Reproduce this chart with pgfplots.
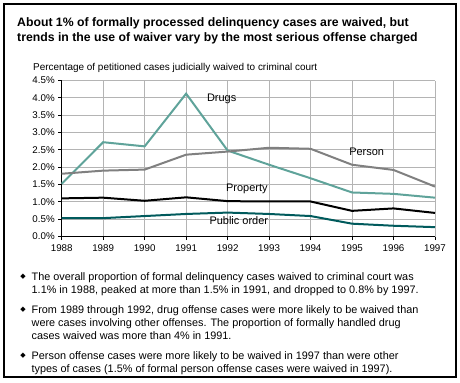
\documentclass[border=0pt]{standalone}
\usepackage{pgfplots}
\pgfplotsset{compat=1.18}
\usepackage{fontspec}
\setmainfont{Liberation Sans}
\newfontfamily\dejavu{DejaVu Sans}
\definecolor{drugs}{HTML}{5FA39A}
\definecolor{person}{HTML}{808080}
\definecolor{puborder}{HTML}{005A5C}
\definecolor{gridgray}{HTML}{B4B4B4}
\newcommand{\bfont}{\fontsize{10.9}{13}\selectfont}
\newcommand{\bul}[1]{\node[anchor=center] at (23,#1+3.6) {\dejavu\fontsize{7}{7}\selectfont ◆};}
\begin{document}
\begin{tikzpicture}[x=1bp,y=1bp]
\path[use as bounding box] (0,0) rectangle (460,382);
\draw[line width=1.3bp] (4,378) rectangle (456,5);
% title
\node[anchor=base west, inner sep=0pt, font=\fontsize{12.3}{14}\selectfont\bfseries] at (17,355.5) {About 1\% of formally processed delinquency cases are waived, but};
\node[anchor=base west, inner sep=0pt, font=\fontsize{12.3}{14}\selectfont\bfseries] at (17,340.5) {trends in the use of waiver vary by the most serious offense charged};
% y label
\node[anchor=base west, inner sep=0pt, font=\fontsize{10}{12}\selectfont] at (33,312) {Percentage of petitioned cases judicially waived to criminal court};
\begin{axis}[
  at={(61.7bp,145.5bp)}, anchor=south west,
  scale only axis, width=373.3bp, height=156bp,
  xmin=1988, xmax=1997, ymin=0, ymax=4.5,
  axis lines=left, axis line style={-, line width=0.9bp, black},
  xtick={1988,1989,1990,1991,1992,1993,1994,1995,1996,1997},
  xticklabels={1988,1989,1990,1991,1992,1993,1994,1995,1996,1997},
  ytick={0,0.5,1,1.5,2,2.5,3,3.5,4,4.5},
  yticklabels={0.0\%,0.5\%,1.0\%,1.5\%,2.0\%,2.5\%,3.0\%,3.5\%,4.0\%,4.5\%},
  tick align=outside, major tick length=3.5bp,
  tick style={black, line width=0.8bp},
  ticklabel style={font=\fontsize{9.8}{11}\selectfont},
  xticklabel style={yshift=-1bp},
  grid=major, major grid style={gridgray, line width=0.8bp},
  clip=false,
]
\addplot[drugs, line width=2bp] coordinates {(1988,1.52) (1989,2.72) (1990,2.60) (1991,4.12) (1992,2.48) (1993,2.07) (1994,1.68) (1995,1.27) (1996,1.23) (1997,1.12)};
\addplot[person, line width=2bp] coordinates {(1988,1.81) (1989,1.90) (1990,1.93) (1991,2.36) (1992,2.45) (1993,2.56) (1994,2.53) (1995,2.07) (1996,1.92) (1997,1.44)};
\addplot[black, line width=2bp] coordinates {(1988,1.10) (1989,1.12) (1990,1.03) (1991,1.13) (1992,1.02) (1993,1.01) (1994,1.01) (1995,0.74) (1996,0.81) (1997,0.68)};
\addplot[puborder, line width=2bp] coordinates {(1988,0.53) (1989,0.53) (1990,0.59) (1991,0.65) (1992,0.69) (1993,0.65) (1994,0.59) (1995,0.37) (1996,0.31) (1997,0.27)};
\node[anchor=west, inner sep=0pt, font=\fontsize{11}{13}\selectfont] at (axis cs:1991.5,3.97) {Drugs};
\node[anchor=west, inner sep=0pt, font=\fontsize{11}{13}\selectfont] at (axis cs:1994.93,2.45) {Person};
\node[anchor=west, inner sep=0pt, font=\fontsize{11}{13}\selectfont] at (axis cs:1991.96,1.37) {Property};
\node[anchor=west, inner sep=0pt, font=\fontsize{11}{13}\selectfont] at (axis cs:1991.56,0.46) {Public order};
\end{axis}
% bullets
\bul{102}
\node[anchor=base west, inner sep=0pt, font=\bfont] at (31.5,102) {The overall proportion of formal delinquency cases waived to criminal court was};
\node[anchor=base west, inner sep=0pt, font=\bfont] at (31.5,89) {1.1\% in 1988, peaked at more than 1.5\% in 1991, and dropped to 0.8\% by 1997.};
\bul{69}
\node[anchor=base west, inner sep=0pt, font=\bfont] at (31.5,69) {From 1989 through 1992, drug offense cases were more likely to be waived than};
\node[anchor=base west, inner sep=0pt, font=\bfont] at (31.5,56) {were cases involving other offenses. The proportion of formally handled drug};
\node[anchor=base west, inner sep=0pt, font=\bfont] at (31.5,43) {cases waived was more than 4\% in 1991.};
\bul{23}
\node[anchor=base west, inner sep=0pt, font=\bfont] at (31.5,23) {Person offense cases were more likely to be waived in 1997 than were other};
\node[anchor=base west, inner sep=0pt, font=\bfont] at (31.5,10) {types of cases (1.5\% of formal person offense cases were waived in 1997).};
\end{tikzpicture}
\end{document}
